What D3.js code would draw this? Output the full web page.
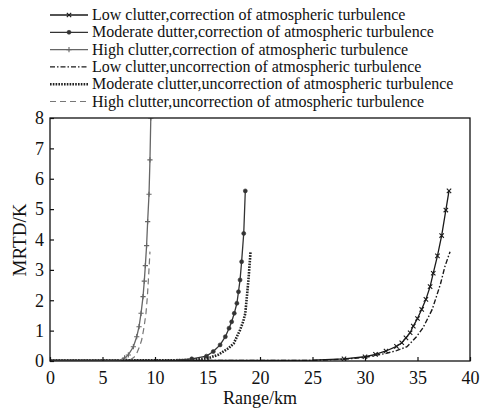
<!DOCTYPE html>
<html>
<head>
<meta charset="utf-8">
<script src="https://cdn.jsdelivr.net/npm/d3@7"></script>
<style>
  body { margin: 0; background: #fff; }
  svg { display: block; font-family: "Liberation Serif", "Times New Roman", serif; }
</style>
</head>
<body>
<svg width="483" height="412"></svg>
<script>
// range (km) and MRTD (K)
var lowCorrX = [0, 10, 20, 25, 28, 30, 31, 32, 33, 33.5, 33.9, 34.3, 34.6, 35.0, 35.4, 35.8, 36.2, 36.5, 36.9, 37.3, 37.7, 38.0];
var lowCorrY = [0.02, 0.02, 0.02, 0.03, 0.07, 0.14, 0.22, 0.33, 0.48, 0.6, 0.76, 0.93, 1.15, 1.4, 1.7, 2.03, 2.45, 2.89, 3.46, 4.13, 4.97, 5.6];

var modCorrX = [0, 5, 10, 12, 13.5, 14.9, 15.55, 16.2, 16.7, 17.05, 17.3, 17.55, 17.8, 17.95, 18.1, 18.25, 18.45, 18.6];
var modCorrY = [0.02, 0.02, 0.02, 0.03, 0.07, 0.16, 0.31, 0.53, 0.8, 1.08, 1.29, 1.57, 1.9, 2.28, 2.67, 3.27, 4.2, 5.6];

var highCorrX = [0, 3, 5, 6, 6.67, 7.1, 7.46, 7.94, 8.26, 8.48, 8.67, 8.86, 8.98, 9.08, 9.2, 9.3, 9.43, 9.52, 9.6];
var highCorrY = [0.02, 0.02, 0.02, 0.02, 0.03, 0.1, 0.2, 0.47, 0.8, 1.13, 1.57, 2.12, 2.63, 3.14, 3.8, 4.59, 5.49, 6.62, 8.0];

var lowUncX = [0, 10, 20, 25, 28, 30, 32, 33, 34.0, 34.9, 35.5, 35.9, 36.4, 36.8, 37.2, 37.6, 38.1];
var lowUncY = [0.02, 0.02, 0.02, 0.02, 0.06, 0.12, 0.25, 0.34, 0.47, 0.8, 1.08, 1.35, 1.7, 2.12, 2.55, 3.1, 3.6];

var modUncX = [0, 5, 10, 13, 14.5, 15.2, 16.0, 16.5, 17.0, 17.5, 18.1, 18.4, 18.6, 18.9, 19.1];
var modUncY = [0.02, 0.02, 0.02, 0.03, 0.07, 0.11, 0.2, 0.31, 0.42, 0.58, 1.02, 1.3, 1.57, 2.67, 3.6];

var highUncX = [0, 3, 6, 7, 7.6, 8.0, 8.26, 8.5, 8.73, 8.95, 9.14, 9.27, 9.37, 9.45, 9.52];
var highUncY = [0.02, 0.02, 0.02, 0.02, 0.03, 0.12, 0.25, 0.45, 0.69, 1.1, 1.57, 2.1, 2.67, 3.15, 3.6];

var xTicks = [0, 5, 10, 15, 20, 25, 30, 35, 40];
var yTicks = [0, 1, 2, 3, 4, 5, 6, 7, 8];

var legendLabels = [
  "Low clutter,correction of atmospheric turbulence",
  "Moderate dutter,correction of atmospheric turbulence",
  "High clutter,correction of atmospheric turbulence",
  "Low clutter,uncorrection of atmospheric turbulence",
  "Moderate clutter,uncorrection of atmospheric turbulence",
  "High clutter,uncorrection of atmospheric turbulence"
];

function zip(xs, ys) {
  return xs.map(function(x, i) { return { x: x, y: ys[i] }; });
}

var series = [
  { data: zip(lowCorrX, lowCorrY), color: '#1a1a1a', width: 1.3, dash: null, marker: 'x' },
  { data: zip(modCorrX, modCorrY), color: '#333', width: 1.3, dash: null, marker: 'o' },
  { data: zip(highCorrX, highCorrY), color: '#666', width: 1.3, dash: null, marker: '+' },
  { data: zip(lowUncX, lowUncY), color: '#1a1a1a', width: 1.4, dash: '5,2,1.5,2', marker: null },
  { data: zip(modUncX, modUncY), color: '#222', width: 2.6, dash: '1.6,1.2', marker: null },
  { data: zip(highUncX, highUncY), color: '#777', width: 1.2, dash: '6,4', marker: null }
];

var margin = { top: 118, right: 13, bottom: 51, left: 50 },
    width = 483 - margin.left - margin.right,
    height = 412 - margin.top - margin.bottom;

var svg = d3.select('svg');

var xScale = d3.scaleLinear().domain([0, 40]).range([margin.left, margin.left + width]);
var yScale = d3.scaleLinear().domain([0, 8]).range([margin.top + height, margin.top]);

svg.append('defs').append('clipPath').attr('id', 'plotclip')
  .append('rect')
    .attr('x', margin.left).attr('y', margin.top)
    .attr('width', width).attr('height', height);

var lineGenerator = d3.line()
    .x(function(d) { return xScale(d.x); })
    .y(function(d) { return yScale(d.y); });

function drawMarker(g, type, x, y, color) {
  if (type === 'x') {
    g.append('path')
      .attr('d', 'M' + (x - 2.2) + ',' + (y - 2.2) + 'L' + (x + 2.2) + ',' + (y + 2.2) +
                 'M' + (x - 2.2) + ',' + (y + 2.2) + 'L' + (x + 2.2) + ',' + (y - 2.2))
      .attr('stroke', color).attr('stroke-width', 1.1).attr('fill', 'none');
  } else if (type === 'o') {
    g.append('circle').attr('cx', x).attr('cy', y).attr('r', 2)
      .attr('fill', color).attr('stroke', color).attr('stroke-width', 0.6);
  } else if (type === '+') {
    g.append('path')
      .attr('d', 'M' + (x - 2.6) + ',' + y + 'L' + (x + 2.6) + ',' + y +
                 'M' + x + ',' + (y - 2.6) + 'L' + x + ',' + (y + 2.6))
      .attr('stroke', color).attr('stroke-width', 1.1).attr('fill', 'none');
  }
}

var plot = svg.append('g').attr('clip-path', 'url(#plotclip)');

// uncorrected curves underneath
series.slice(3).concat(series.slice(0, 3)).forEach(function(s) {
  plot.append('path')
    .datum(s.data)
    .attr('d', lineGenerator)
    .attr('fill', 'none')
    .attr('stroke', s.color)
    .attr('stroke-width', s.width)
    .attr('stroke-dasharray', s.dash);
  if (s.marker) {
    s.data.forEach(function(d) {
      if (d.y > 0.04) drawMarker(plot, s.marker, xScale(d.x), yScale(d.y), s.color);
    });
  }
});

// frame
svg.append('rect')
  .attr('x', margin.left).attr('y', margin.top)
  .attr('width', width).attr('height', height)
  .attr('fill', 'none').attr('stroke', '#111').attr('stroke-width', 1.3);

// axes
var xAxis = svg.append('g')
  .attr('transform', 'translate(0,' + (margin.top + height) + ')')
  .call(d3.axisBottom(xScale).tickValues(xTicks).tickSizeInner(-4).tickSizeOuter(0).tickPadding(10));
var yAxis = svg.append('g')
  .attr('transform', 'translate(' + margin.left + ',0)')
  .call(d3.axisLeft(yScale).tickValues(yTicks).tickSizeInner(-4).tickSizeOuter(0).tickPadding(6));

[xAxis, yAxis].forEach(function(ax) {
  ax.select('.domain').remove();
  ax.selectAll('line').attr('stroke', '#111').attr('stroke-width', 1.2);
  ax.selectAll('text')
    .attr('font-family', '"Liberation Serif", serif')
    .attr('font-size', 18)
    .attr('fill', '#111');
});

svg.append('text')
  .attr('x', 260).attr('y', 404)
  .attr('text-anchor', 'middle')
  .attr('font-size', 18).attr('fill', '#111')
  .text('Range/km');

svg.append('text')
  .attr('transform', 'translate(26,240) rotate(-90)')
  .attr('text-anchor', 'middle')
  .attr('font-size', 19).attr('fill', '#111')
  .text('MRTD/K');

// legend
var legend = svg.append('g');
series.forEach(function(s, i) {
  var y = 15 + i * 17.3;
  legend.append('line')
    .attr('x1', 50).attr('x2', 88).attr('y1', y).attr('y2', y)
    .attr('stroke', s.color)
    .attr('stroke-width', s.width)
    .attr('stroke-dasharray', s.dash);
  if (s.marker) drawMarker(legend, s.marker, 69, y, s.color);
  legend.append('text')
    .attr('x', 92).attr('y', y + 5)
    .attr('font-size', 16).attr('fill', '#111')
    .text(legendLabels[i]);
});
</script>
</body>
</html>
